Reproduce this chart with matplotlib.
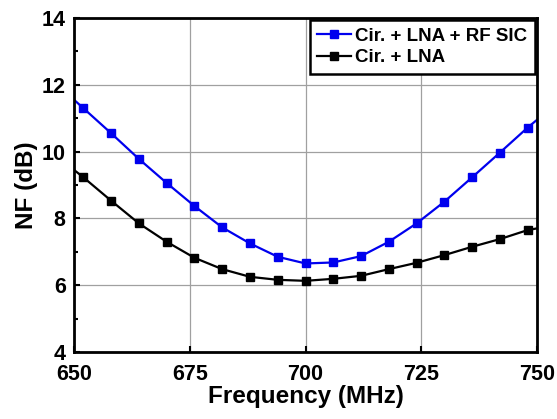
import numpy as np
import matplotlib
matplotlib.use('Agg')
import matplotlib.pyplot as plt

plt.rcParams['font.family'] = ['Liberation Sans', 'DejaVu Sans']
plt.rcParams['font.weight'] = 'bold'

# frequency points (MHz); ends only carry the line, markers every 6 MHz
freq = [650, 652, 658, 664, 670, 676, 682, 688, 694, 700,
        706, 712, 718, 724, 730, 736, 742, 748, 750]
nf_sic = [11.55, 11.30, 10.55, 9.78, 9.06, 8.37, 7.73, 7.25, 6.85, 6.65,
          6.68, 6.87, 7.30, 7.85, 8.50, 9.23, 9.97, 10.72, 10.95]
nf_lna = [9.45, 9.23, 8.53, 7.85, 7.30, 6.82, 6.48, 6.25, 6.16, 6.13,
          6.19, 6.28, 6.48, 6.67, 6.90, 7.15, 7.38, 7.65, 7.70]

labels = ['Cir. + LNA + RF SIC', 'Cir. + LNA']

fig = plt.figure(figsize=(5.57, 4.19), dpi=100)
ax = fig.add_axes([0.133, 0.160, 0.831, 0.797])

ax.plot(freq, nf_sic, '-s', color='#0000ee', lw=1.6, ms=6,
        markevery=slice(1, -1), label=labels[0])
ax.plot(freq, nf_lna, '-s', color='black', lw=1.6, ms=6,
        markevery=slice(1, -1), label=labels[1])

ax.set_xlim(650, 750)
ax.set_ylim(4, 14)
ax.set_xticks([650, 675, 700, 725, 750])
ax.set_yticks([4, 6, 8, 10, 12, 14])
ax.set_yticks([5, 7, 9, 11, 13], minor=True)
ax.grid(True, which='major', color='#a0a0a0', lw=0.9)
ax.tick_params(which='both', direction='in', labelsize=15.5, width=1.5)
ax.tick_params(which='major', length=4)
ax.tick_params(which='minor', length=3)
ax.tick_params(axis='x', pad=9)
ax.tick_params(axis='y', pad=6)
for s in ax.spines.values():
    s.set_linewidth(2)

ax.set_xlabel('Frequency (MHz)', fontsize=17.5, fontweight='bold', labelpad=0)
ax.set_ylabel('NF (dB)', fontsize=17.5, fontweight='bold', labelpad=3)

leg = ax.legend(loc='upper right', fontsize=13.5, handlelength=1.8,
                handletextpad=0.25, borderaxespad=0.1, fancybox=False,
                framealpha=1, borderpad=0.4, labelspacing=0.25,
                markerscale=0.85)
leg.get_frame().set_edgecolor('black')
leg.get_frame().set_linewidth(1.8)

fig.savefig('out.png', dpi=100)
